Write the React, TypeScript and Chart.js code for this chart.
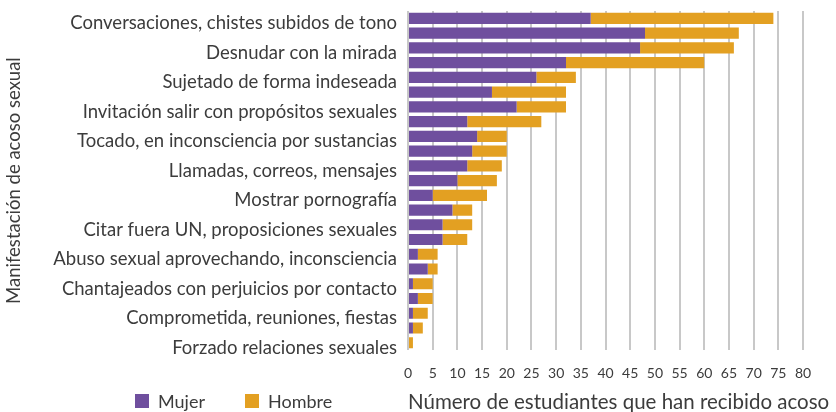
import React, { useEffect, useRef } from "react";
import { Chart, registerables } from "chart.js";

Chart.register(...registerables);

// Categories (every other category label is not shown in the reference)
const categories: string[] = [
  "Conversaciones, chistes subidos de tono", "",
  "Desnudar con la mirada", "",
  "Sujetado de forma indeseada", "",
  "Invitación salir con propósitos sexuales", "",
  "Tocado, en inconsciencia por sustancias", "",
  "Llamadas, correos, mensajes", "",
  "Mostrar pornografía", "",
  "Citar fuera UN, proposiciones sexuales", "",
  "Abuso sexual aprovechando, inconsciencia", "",
  "Chantajeados con perjuicios por contacto", "",
  "Comprometida, reuniones, fiestas", "",
  "Forzado relaciones sexuales",
];

const mujer: number[] = [37, 48, 47, 32, 26, 17, 22, 12, 14, 13, 12, 10, 5, 9, 7, 7, 2, 4, 1, 2, 1, 1, 0];
const hombre: number[] = [37, 19, 19, 28, 8, 15, 10, 15, 6, 7, 7, 8, 11, 4, 6, 5, 4, 2, 4, 3, 3, 2, 1];

const seriesNames: string[] = ["Mujer", "Hombre"];
const seriesColors: string[] = ["#6f4f9e", "#e3a022"];

const yTitle = "Manifestación de acoso sexual";
const xTitle = "Número de estudiantes que han recibido acoso";

const xMin = 0;
const xMax = 80;
const xStep = 5;

const FONT = "Lato";
const TEXT = "#3c3c3c";

export default function App() {
  const ref = useRef<HTMLCanvasElement | null>(null);

  useEffect(() => {
    document.body.style.margin = "0";
    const seriesData = [mujer, hombre];
    const chart = new Chart(ref.current!, {
      type: "bar",
      data: {
        labels: categories,
        datasets: seriesNames.map((name, i) => ({
          label: name,
          data: seriesData[i],
          backgroundColor: seriesColors[i],
          borderWidth: 0,
          barPercentage: 0.75,
          categoryPercentage: 1,
        })),
      },
      options: {
        indexAxis: "y",
        responsive: false,
        animation: false,
        layout: { padding: { top: 11, right: 33, bottom: 15, left: 0 } },
        plugins: {
          legend: { display: false },
          tooltip: { enabled: false },
        },
        scales: {
          x: {
            stacked: true,
            min: xMin,
            max: xMax,
            ticks: {
              stepSize: xStep,
              color: TEXT,
              font: { family: FONT, size: 14 },
              padding: 15,
              maxRotation: 0,
            },
            grid: { color: "#c8c8c8", lineWidth: 2, drawTicks: false },
            border: { display: false },
          },
          y: {
            stacked: true,
            grid: { display: false, drawTicks: false },
            border: { display: false },
            ticks: {
              autoSkip: false,
              color: TEXT,
              font: { family: FONT, size: 18.5 },
              padding: 11,
              labelOffset: 5,
            },
            title: {
              display: true,
              text: yTitle,
              color: TEXT,
              font: { family: FONT, size: 18.5 },
              padding: { top: 3, bottom: 0 },
            },
            afterFit: (scale: any) => {
              scale.width = 408;
              scale.paddingTop = 0;
              scale.paddingBottom = 0;
            },
          },
        },
      },
    } as any);
    return () => chart.destroy();
  }, []);

  return (
    <div style={{ position: "fixed", left: 0, top: 0, width: 836, height: 412, overflow: "hidden", fontFamily: FONT, color: TEXT }}>
      <canvas ref={ref} width={836} height={412} style={{ display: "block" }} />
      {seriesNames.map((name, i) => (
        <div
          key={name}
          style={{
            position: "absolute",
            left: i === 0 ? 135 : 245,
            top: 391,
            display: "flex",
            alignItems: "center",
            fontSize: 18,
            lineHeight: "20px",
            whiteSpace: "nowrap",
          }}
        >
          <span style={{ display: "inline-block", width: 14, height: 14, background: seriesColors[i], marginRight: 9 }} />
          <span>{name}</span>
        </div>
      ))}
      <div
        style={{
          position: "absolute",
          left: 408,
          top: 389,
          fontSize: 20.5,
          lineHeight: "24px",
          whiteSpace: "nowrap",
        }}
      >
        {xTitle}
      </div>
    </div>
  );
}
